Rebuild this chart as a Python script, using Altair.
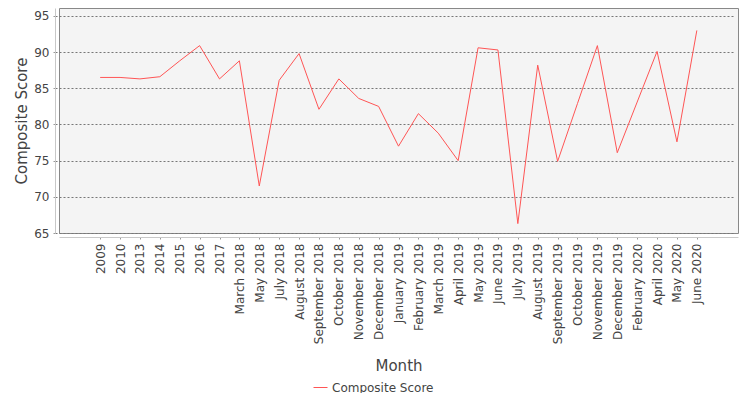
import json

import altair as alt
import pandas as pd

months = [
    "2009", "2010", "2013", "2014", "2015", "2016", "2017",
    "March 2018", "May 2018", "July 2018", "August 2018", "September 2018",
    "October 2018", "November 2018", "December 2018", "January 2019",
    "February 2019", "March 2019", "April 2019", "May 2019", "June 2019",
    "July 2019", "August 2019", "September 2019", "October 2019",
    "November 2019", "December 2019", "February 2020", "April 2020",
    "May 2020", "June 2020",
]
scores = [
    86.5, 86.5, 86.3, 86.6, 88.8, 90.9, 86.3,
    88.8, 71.5, 86.1, 89.8, 82.1,
    86.3, 83.6, 82.5, 77.0,
    81.5, 78.8, 75.0, 90.6, 90.3,
    66.3, 88.2, 74.9, 82.9,
    90.9, 76.1, 83.1, 90.1,
    77.6, 93.0,
]
y_ticks = [65, 70, 75, 80, 85, 90, 95]
series = "Composite Score"

df = pd.DataFrame({"idx": range(len(months)), "month": months, "score": scores, "series": series})

# categorical axis drawn on an index scale so the plot keeps its wide side margins
label_expr = f"{json.dumps(months)}[datum.value]"

chart = (
    alt.Chart(df)
    .mark_line(strokeWidth=1)
    .encode(
        x=alt.X(
            "idx:Q",
            title="Month",
            scale=alt.Scale(domain=[-2.07, len(months) + 1.07], nice=False, zero=False),
            axis=alt.Axis(
                values=list(range(len(months))),
                labelExpr=label_expr,
                labelAngle=-90,
                labelAlign="right",
                labelBaseline="middle",
                titlePadding=15,
                grid=False,
            ),
        ),
        y=alt.Y(
            "score:Q",
            title="Composite Score",
            scale=alt.Scale(domain=[65, 96.1], nice=False, zero=False),
            axis=alt.Axis(values=y_ticks, titlePadding=4),
        ),
        color=alt.Color(
            "series:N",
            scale=alt.Scale(domain=[series], range=["#ff5555"]),
            legend=alt.Legend(
                title=None,
                orient="none",
                legendX=254,
                legendY=372,
                symbolType="stroke",
                symbolSize=196,
                symbolStrokeWidth=1,
                labelFontSize=12,
                labelColor="#444444",
                labelFont="DejaVu Sans",
            ),
        ),
        tooltip=["month:N", "score:Q"],
    )
    .properties(
        width=679,
        height=225,
        autosize=alt.AutoSizeParams(type="none"),
        padding={"left": 51, "top": 0, "right": 4, "bottom": 160},
    )
    .configure(background="white")
    .configure_view(fill="#f4f4f4", stroke="#888888", strokeWidth=1)
    .configure_axis(
        labelFont="DejaVu Sans",
        labelFontSize=12,
        labelColor="#444444",
        titleFont="DejaVu Sans",
        titleFontSize=15,
        titleFontWeight="normal",
        titleColor="#444444",
        offset=4,
        domainColor="#c8c8c8",
        tickColor="#999999",
        tickSize=2,
        labelPadding=4,
        gridColor="#777777",
        gridDash=[2, 2],
        gridWidth=1,
    )
)

chart.save("out.html", embed_options={"renderer": "svg", "actions": False})
